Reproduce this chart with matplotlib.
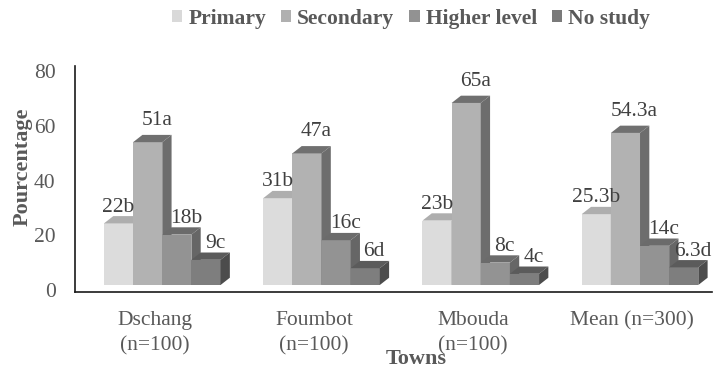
import matplotlib
matplotlib.use('Agg')
import matplotlib.pyplot as plt
from matplotlib.patches import Polygon, Patch

# ---------------- data ----------------
towns = ['Dschang\n(n=100)', 'Foumbot\n(n=100)', 'Mbouda\n(n=100)', 'Mean (n=300)']
series = ['Primary', 'Secondary', 'Higher level', 'No study']
primary = [22, 31, 23, 25.3]
secondary = [51, 47, 65, 54.3]
higher = [18, 16, 8, 14]
no_study = [9, 6, 4, 6.3]
primary_lbl = ['22b', '31b', '23b', '25.3b']
secondary_lbl = ['51a', '47a', '65a', '54.3a']
higher_lbl = ['18b', '16c', '8c', '14c']
no_study_lbl = ['9c', '6d', '4c', '6.3d']
yticks = [0, 20, 40, 60, 80]

values = [primary, secondary, higher, no_study]
labels = [primary_lbl, secondary_lbl, higher_lbl, no_study_lbl]

# ---------------- style ----------------
plt.rcParams['font.family'] = ['Liberation Serif', 'DejaVu Serif']
front_c = ['#dcdcdc', '#b2b2b2', '#939393', '#7e7e7e']
top_c = ['#aeaeae', '#707070', '#6b6b6b', '#5b5b5b']
side_c = ['#9a9a9a', '#6d6d6d', '#666666', '#4c4c4c']
legend_c = ['#d9d9d9', '#b0b0b0', '#929292', '#7a7a7a']
lbl_dx_pt = [0, 6.5, 6.5, 6.5]
lbl_dy_pt = [3.2, 7.2, 3.2, 3.2]
txt_c = '#595959'

W, H = 720, 368
fig = plt.figure(figsize=(W / 100, H / 100), dpi=100)


def px_box(l, t, r, b):
    return [l / W, 1 - b / H, (r - l) / W, (b - t) / H]


pos = px_box(75, 66, 712, 292)
ax = fig.add_axes(pos)
ax.set_xlim(-0.5, 3.5)
ax.set_ylim(-0.73, 81.83)
ax.set_yticks(yticks)
ax.set_xticks(range(len(towns)))
ax.set_xticklabels(towns, linespacing=1.45)
ax.tick_params(axis='y', length=0, pad=14, labelsize=15.5, labelcolor=txt_c)
ax.tick_params(axis='x', length=0, pad=13.5, labelsize=15.5, labelcolor=txt_c)
for s in ['top', 'right']:
    ax.spines[s].set_visible(False)
for s in ['left', 'bottom']:
    ax.spines[s].set_color('#1a1a1a')
    ax.spines[s].set_linewidth(1.2)
ax.patch.set_visible(False)

# bar axes (front plane, slightly larger scale like perspective)
ax2 = fig.add_axes(pos, zorder=3)
ax2.set_xlim(-0.5, 3.5)
ax2.set_ylim(-2.5, 78.2)
ax2.axis('off')

bw = 0.183
g0 = -0.318
ddx = 0.0584
ddy = 2.6

for gi in range(len(towns)):
    for si in range(len(series)):
        v = values[si][gi]
        x0 = gi + g0 + bw * si
        z = 2 + si * 0.1 + gi
        ax2.bar(x0, v, width=bw, align='edge', color=front_c[si], linewidth=0, zorder=z)
        top = Polygon([(x0, v), (x0 + bw, v), (x0 + bw + ddx, v + ddy), (x0 + ddx, v + ddy)],
                      closed=True, facecolor=top_c[si], linewidth=0, zorder=z)
        side = Polygon([(x0 + bw, 0), (x0 + bw, v), (x0 + bw + ddx, v + ddy), (x0 + bw + ddx, ddy)],
                       closed=True, facecolor=side_c[si], linewidth=0, zorder=z)
        ax2.add_patch(top)
        ax2.add_patch(side)
        ax2.annotate(labels[si][gi], xy=(x0 + bw / 2, v + ddy),
                     xytext=(lbl_dx_pt[si], lbl_dy_pt[si]), textcoords='offset points',
                     ha='center', va='baseline', fontsize=15.5, color='#404040', zorder=20)

fig.text(23 / W, 1 - 167 / H, 'Pourcentage', rotation=90, ha='center', va='center',
         fontsize=16, fontweight='bold', color=txt_c)
fig.text(416 / W, 1 - 364 / H, 'Towns', ha='center', va='baseline',
         fontsize=16, fontweight='bold', color=txt_c)

handles = [Patch(facecolor=c, edgecolor='none') for c in legend_c]
fig.legend(handles, series, ncol=4, loc='center', bbox_to_anchor=(411 / W, 1 - 19 / H),
           frameon=False, prop={'weight': 'bold', 'size': 15.5}, labelcolor=txt_c,
           handlelength=0.47, handleheight=0.47, handletextpad=0.28, columnspacing=0.7,
           borderpad=0, borderaxespad=0)

fig.savefig('out.png', dpi=100)
